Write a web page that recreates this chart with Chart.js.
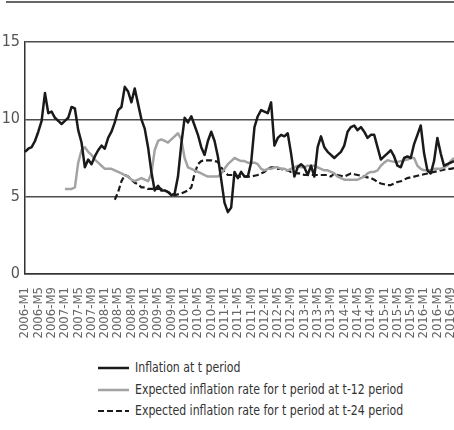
<!DOCTYPE html>
<html>
<head>
<meta charset="utf-8">
<script src="https://cdn.jsdelivr.net/npm/chart.js@4.4.1/dist/chart.umd.min.js"></script>
<style>
  body { margin: 0; background: #fff; width: 454px; height: 430px; overflow: hidden; position: relative; }
  #topline { position: absolute; top: 1px; left: 6px; right: 0; border-top: 2px solid #666; }
  #myChart { position: absolute; left: 0; top: 0; }
  #legend { position: absolute; left: 98px; top: 357px; font-family: "DejaVu Sans Condensed", "DejaVu Sans", sans-serif; font-size: 14px; color: #333; }
  .row { height: 21.5px; line-height: 21.5px; white-space: nowrap; }
  .row svg { vertical-align: middle; margin-right: 6px; }
  .row span { display: inline-block; transform: scaleX(0.87); transform-origin: left center; }
</style>
</head>
<body>
<div id="topline"></div>
<canvas id="myChart" width="454" height="352"></canvas>
<div id="legend"></div>
<script>
// months 2006-M1 .. 2016-M10
var years = [2006, 2007, 2008, 2009, 2010, 2011, 2012, 2013, 2014, 2015, 2016];
var lastMonth = 10;
var labels = [];
for (var y = 0; y < years.length; y++) {
	for (var m = 1; m <= 12; m++) {
		if (years[y] == 2016 && m > lastMonth) break;
		labels.push(years[y] + "-M" + m);
	}
}

var seriesNames = [
	"Inflation at t period",
	"Expected inflation rate for t period at t-12 period",
	"Expected inflation rate for t period at t-24 period"
];

var yTicks = [0, 5, 10, 15];

var inflation = [
	7.9, 8.1, 8.2, 8.6, 9.2, 9.9, 11.7, 10.4, 10.5, 10.1, 9.9, 9.7,
	9.9, 10.1, 10.8, 10.7, 9.3, 8.5, 6.9, 7.4, 7.1, 7.6, 8.0, 8.3,
	8.1, 8.8, 9.2, 9.8, 10.6, 10.8, 12.1, 11.8, 11.1, 12.0, 11.0, 10.0,
	9.4, 8.2, 6.6, 5.4, 5.7, 5.4, 5.4, 5.3, 5.1, 5.2, 6.3, 8.4,
	10.1, 9.8, 10.2, 9.6, 9.0, 8.2, 7.7, 8.6, 9.2, 8.6, 7.6, 6.1,
	4.6, 4.0, 4.3, 6.6, 6.2, 6.6, 6.3, 6.3, 7.2, 9.5, 10.2, 10.6,
	10.5, 10.4, 11.1, 8.3, 8.8, 9.0, 8.9, 9.1, 7.8, 6.3, 6.9, 7.1,
	6.9, 6.4, 7.0, 6.3, 8.2, 8.9, 8.2, 7.9, 7.7, 7.5, 7.7, 7.9,
	8.3, 9.2, 9.5, 9.6, 9.3, 9.5, 9.2, 8.8, 9.0, 9.0, 8.2, 7.4,
	7.6, 7.8, 8.0, 7.6, 7.0, 6.9, 7.5, 7.6, 7.5, 8.4, 9.0, 9.6,
	7.8, 6.7, 6.5, 7.3, 8.8, 7.8, 7.0, 7.1, 7.2, 7.3
];

var expected12 = [
	null, null, null, null, null, null, null, null, null, null, null, null,
	5.5, 5.5, 5.5, 5.6, 7.2, 8.0, 8.2, 7.9, 7.7, 7.4, 7.2, 7.0,
	6.8, 6.8, 6.8, 6.7, 6.6, 6.5, 6.4, 6.3, 6.1, 6.0, 6.1, 6.2,
	6.1, 6.0, 6.5, 8.0, 8.6, 8.7, 8.6, 8.5, 8.7, 8.9, 9.1, 8.7,
	7.5, 6.9, 6.8, 6.7, 6.6, 6.5, 6.4, 6.3, 6.3, 6.3, 6.3, 6.5,
	6.8, 7.1, 7.3, 7.5, 7.4, 7.3, 7.3, 7.2, 7.2, 7.2, 7.1, 6.8,
	6.7, 6.8, 6.8, 6.9, 6.9, 6.8, 6.8, 6.7, 6.8, 6.9, 7.0, 6.9,
	6.9, 7.0, 7.0, 7.0, 6.9, 6.8, 6.7, 6.7, 6.6, 6.5, 6.3, 6.2,
	6.1, 6.1, 6.1, 6.1, 6.1, 6.2, 6.3, 6.5, 6.6, 6.6, 6.7, 7.0,
	7.2, 7.35, 7.3, 7.25, 7.25, 7.3, 7.35, 7.4, 7.5, 7.5, 7.0, 6.8,
	6.7, 6.7, 6.7, 6.8, 6.8, 6.8, 6.9, 7.0, 7.3, 7.5
];

var expected24 = [
	null, null, null, null, null, null, null, null, null, null, null, null,
	null, null, null, null, null, null, null, null, null, null, null, null,
	null, null, null, 4.8, 5.3, 6.0, 6.4, 6.3, 6.1, 5.9, 5.8, 5.6,
	5.6, 5.5, 5.5, 5.5, 5.5, 5.5, 5.4, 5.3, 5.2, 5.1, 5.15, 5.2,
	5.3, 5.4, 5.6, 6.5, 7.1, 7.3, 7.35, 7.35, 7.35, 7.3, 7.25, 6.9,
	6.6, 6.4, 6.4, 6.4, 6.3, 6.3, 6.3, 6.3, 6.3, 6.35, 6.4, 6.5,
	6.6, 6.8, 6.9, 6.9, 6.8, 6.8, 6.7, 6.7, 6.6, 6.6, 6.5, 6.5,
	6.4, 6.4, 6.4, 6.4, 6.4, 6.4, 6.4, 6.4, 6.3, 6.5, 6.4, 6.35,
	6.3, 6.4, 6.5, 6.45, 6.4, 6.35, 6.3, 6.25, 6.2, 6.1, 5.95, 5.85,
	5.8, 5.75, 5.75, 5.85, 5.95, 6.0, 6.1, 6.2, 6.25, 6.3, 6.35, 6.4,
	6.45, 6.5, 6.55, 6.6, 6.65, 6.7, 6.75, 6.8, 6.8, 6.85
];

var narrow = "'DejaVu Sans Condensed', 'DejaVu Sans', sans-serif";

var data = {
	labels: labels,
	datasets: [
		{ label: seriesNames[0], data: inflation, borderColor: "#1a1a1a", borderWidth: 2.5 },
		{ label: seriesNames[1], data: expected12, borderColor: "#a3a3a3", borderWidth: 2.5 },
		{ label: seriesNames[2], data: expected24, borderColor: "#1a1a1a", borderWidth: 2.2, borderDash: [6, 3] }
	]
};

var options = {
	responsive: false,
	animation: false,
	layout: { padding: { top: 42, right: 0, bottom: 0, left: 0 } },
	elements: {
		point: { radius: 0 },
		line: { tension: 0, borderJoinStyle: "round" }
	},
	plugins: {
		legend: { display: false },
		tooltip: { enabled: false }
	},
	scales: {
		x: {
			grid: { display: false },
			border: { color: "#333", width: 1.5 },
			ticks: {
				autoSkip: false,
				maxRotation: 90,
				minRotation: 90,
				padding: 5,
				color: "#666",
				font: { family: narrow, size: 13 },
				callback: function(val, i) { return i % 4 == 0 ? this.getLabelForValue(val) : ""; }
			},
			// no extra room for the rotated labels at the ends
			afterFit: function(scale) {
				scale.height = 352 - 274;
				scale.paddingLeft = 0;
				scale.paddingRight = 0;
			}
		},
		y: {
			min: 0,
			max: 15,
			afterBuildTicks: function(scale) { scale.ticks = yTicks.map(function(v) { return { value: v }; }); },
			grid: { color: "#4d4d4d", lineWidth: 1.5, drawTicks: false },
			border: { color: "#333", width: 1.5 },
			ticks: { padding: 5, color: "#555", font: { family: narrow, size: 16 } },
			afterFit: function(scale) { scale.width = 25; }
		}
	}
};

var ctx = document.getElementById("myChart").getContext("2d");
var chart = new Chart(ctx, { type: "line", data: data, options: options });

// legend below the chart
var legendStyles = [
	{ color: "#1a1a1a", width: 2.5, dash: "" },
	{ color: "#a3a3a3", width: 2.5, dash: "" },
	{ color: "#1a1a1a", width: 2.2, dash: "6,3" }
];
var html = "";
for (var i = 0; i < seriesNames.length; i++) {
	var s = legendStyles[i];
	html += '<div class="row"><svg width="31" height="6"><line x1="0" y1="3" x2="31" y2="3" stroke="' + s.color +
		'" stroke-width="' + s.width + '"' + (s.dash ? ' stroke-dasharray="' + s.dash + '"' : '') + '/></svg>' +
		'<span>' + seriesNames[i] + '</span></div>';
}
document.getElementById("legend").innerHTML = html;
</script>
</body>
</html>
